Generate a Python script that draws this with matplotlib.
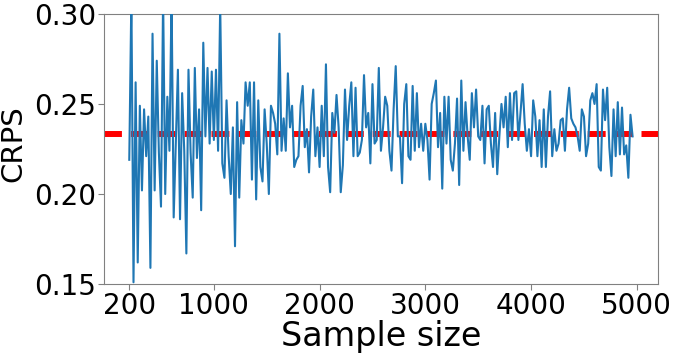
import numpy as np
import matplotlib
matplotlib.use('Agg')
import matplotlib.pyplot as plt

# CRPS, one value per 20 samples starting at 200
crps_early = [0.219, 0.310, 0.151, 0.262, 0.162, 0.249, 0.202, 0.247, 0.221, 0.243,
              0.159, 0.289, 0.202, 0.274, 0.223, 0.193, 0.310, 0.200, 0.254, 0.224,
              0.310, 0.187, 0.228, 0.269, 0.186, 0.256, 0.224, 0.167, 0.269, 0.223]
crps_1000 = [0.198, 0.270, 0.220, 0.247, 0.191, 0.284, 0.232, 0.270, 0.228, 0.268,
             0.230, 0.269, 0.224, 0.305, 0.217, 0.209, 0.252, 0.221, 0.200, 0.237,
             0.171, 0.251, 0.198, 0.241, 0.228, 0.262, 0.249, 0.262, 0.208, 0.262,
             0.197, 0.252]
crps_1500 = [0.215, 0.207, 0.247, 0.228, 0.200, 0.249, 0.245, 0.239, 0.222]
crps_mid = [0.289, 0.224, 0.242, 0.224, 0.267, 0.237, 0.249, 0.215, 0.219, 0.221,
            0.249, 0.260, 0.226, 0.236, 0.212, 0.243, 0.258, 0.221, 0.237, 0.215,
            0.249, 0.221, 0.272, 0.215, 0.201, 0.245, 0.234, 0.255, 0.237, 0.201,
            0.216, 0.258, 0.230, 0.249, 0.262, 0.221, 0.259, 0.221, 0.223, 0.230,
            0.266, 0.237, 0.245, 0.217, 0.261, 0.228, 0.230, 0.270, 0.224, 0.237,
            0.254, 0.249, 0.224, 0.213, 0.247, 0.271, 0.232, 0.232, 0.206, 0.250,
            0.261, 0.221, 0.219, 0.260, 0.224, 0.256, 0.226, 0.239, 0.224, 0.239,
            0.230, 0.208, 0.250, 0.256, 0.263, 0.226, 0.245, 0.203, 0.254, 0.228,
            0.254, 0.219, 0.213, 0.228, 0.253, 0.205, 0.263, 0.224, 0.251, 0.232,
            0.219, 0.256, 0.237, 0.258, 0.232]
crps_late = [0.230, 0.249, 0.217, 0.247, 0.249, 0.228, 0.215, 0.245, 0.211, 0.232,
             0.250, 0.237, 0.254, 0.226, 0.256, 0.230, 0.256, 0.257, 0.230, 0.245,
             0.261, 0.239, 0.224, 0.236, 0.221, 0.252, 0.243, 0.221, 0.241, 0.215,
             0.247, 0.215, 0.243, 0.257, 0.221, 0.236, 0.224, 0.228, 0.241, 0.242,
             0.224, 0.247, 0.259, 0.242, 0.239, 0.237, 0.232, 0.224, 0.247, 0.243,
             0.221, 0.228, 0.252, 0.256, 0.250, 0.261, 0.215, 0.213, 0.258, 0.241,
             0.259, 0.226, 0.210, 0.247, 0.221, 0.251, 0.222, 0.248, 0.222, 0.227,
             0.209, 0.244, 0.232]
baseline = 0.2335

crps = crps_early + crps_1000 + crps_1500 + crps_mid + crps_late
sizes = np.arange(200, 200 + 20 * len(crps), 20)

fig = plt.figure(figsize=(6.76, 3.56), dpi=100)
ax = fig.add_axes([0.154, 0.202, 0.819, 0.759])

ax.plot(sizes, crps, color='#1f77b4', lw=1.5, zorder=3)
ax.axhline(baseline, color='red', lw=4.3, ls=(0, (3, 1.5)), zorder=2)

ax.set_ylim(0.15, 0.30)
ax.set_yticks([0.15, 0.20, 0.25, 0.30])
ax.set_yticklabels(['0.15', '0.20', '0.25', '0.30'])
ax.set_xticks([200, 1000, 2000, 3000, 4000, 5000])

for s in ax.spines.values():
    s.set_color('#808080')
ax.tick_params(colors='#808080', labelcolor='black', labelsize=20, length=4, pad=2)

ax.set_xlabel('Sample size', fontsize=24, labelpad=0)
ax.set_ylabel('CRPS', fontsize=21)
ax.yaxis.set_label_coords(-0.138, 0.52)

fig.savefig('out.png', dpi=100)
